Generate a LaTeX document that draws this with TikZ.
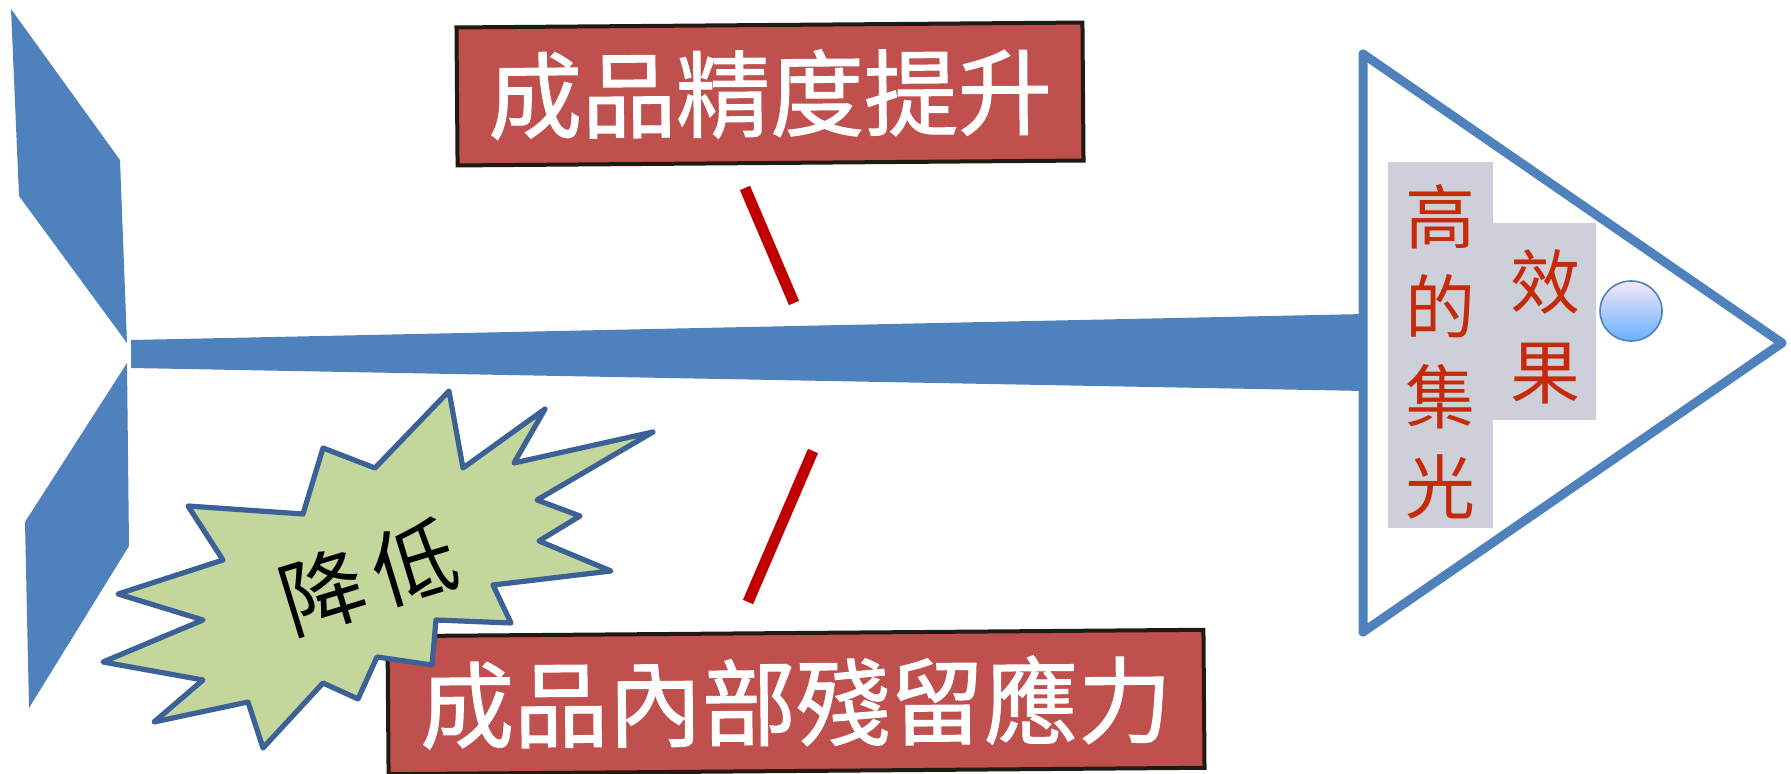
\documentclass[tikz,border=0pt]{standalone}
\usepackage{fontspec}
\newfontfamily\cjk{Noto Sans CJK TC}
\newfontfamily\cjkbold[FakeBold=1.2]{Noto Sans CJK TC}
\definecolor{spineblue}{HTML}{4F81BD}
\definecolor{boxred}{HTML}{C0504D}
\definecolor{boxborder}{HTML}{1F1A12}
\definecolor{bonered}{HTML}{C00000}
\definecolor{burstgreen}{HTML}{C3D69B}
\definecolor{burstline}{HTML}{3B6196}
\definecolor{graybg}{HTML}{CDD0D8}
\definecolor{headtext}{HTML}{C62A0B}
\definecolor{ballTop}{HTML}{F6E8F6}
\definecolor{ballBottom}{HTML}{68B0FF}
\begin{document}
\begin{tikzpicture}[x=0.5pt,y=-0.5pt,
  redbox/.style={draw=boxborder, line width=2pt, fill=boxred, text=white,
    font=\cjkbold\fontsize{47}{47}\selectfont, inner sep=0pt, rotate=0.45},
  bone/.style={draw=bonered, line width=5.5pt},
  graytext/.style={text=headtext, font=\cjk\fontsize{35}{45}\selectfont, align=center, inner sep=0pt},
  tail/.style={fill=spineblue}
]
\useasboundingbox (0,0) rectangle (1791,774);
% tail fins
\path[tail] (11,9) -- (120,160) -- (127,343) -- (19,196) -- cycle;
\path[tail] (127,363) -- (129,546) -- (29,708) -- (25,522) -- cycle;
% head
\draw[spineblue, line width=4.5pt, line join=round, fill=white] (1363,54) -- (1782,343) -- (1363,632) -- cycle;
\fill[graybg] (1388,162) rectangle (1493,528);
\fill[graybg] (1493,223) rectangle (1596,420);
\node[graytext] (t1) at (1440,352) {高\\的\\集\\光};
\node[graytext] (t2) at (1545,327) {效\\果};
\shade[top color=ballTop, bottom color=ballBottom, draw=spineblue, line width=0.8pt] (1631,311) ellipse [x radius=31, y radius=30];
% spine
\path[tail] (131,340) -- (1365,314) -- (1365,391) -- (131,368) -- cycle;
% bones
\draw[bone] (745,188) -- (794,303);
\draw[bone] (813,451) -- (748,602);
% boxes
\node[redbox, minimum width=313pt, minimum height=69pt] (top) at (770,94) {成品精度提升};
\node[redbox, minimum width=408pt, minimum height=69pt] (bot) at (796,702) {成品內部殘留應力};
% starburst
\draw[fill=burstgreen, draw=burstline, line width=2.6pt, line join=round]
 (449,391) -- (463,468) -- (545,409) -- (514,463) -- (653,432) -- (537,500) -- (580,516) -- (539,541) -- (611,571) -- (493,585) -- (511,623) -- (436,620) -- (432,665) -- (377,657) -- (358,699) -- (323,683) -- (263,748) -- (248,702) -- (154,722) -- (203,680) -- (103,662) -- (203,620) -- (118,594) -- (223,560) -- (188,506) -- (303,514) -- (323,448) -- (375,468) -- cycle;
\node[font=\cjk\fontsize{42}{42}\selectfont, rotate=17, inner sep=0pt] (burst) at (368,577) {降\hspace{6pt}低};
\end{tikzpicture}
\end{document}
